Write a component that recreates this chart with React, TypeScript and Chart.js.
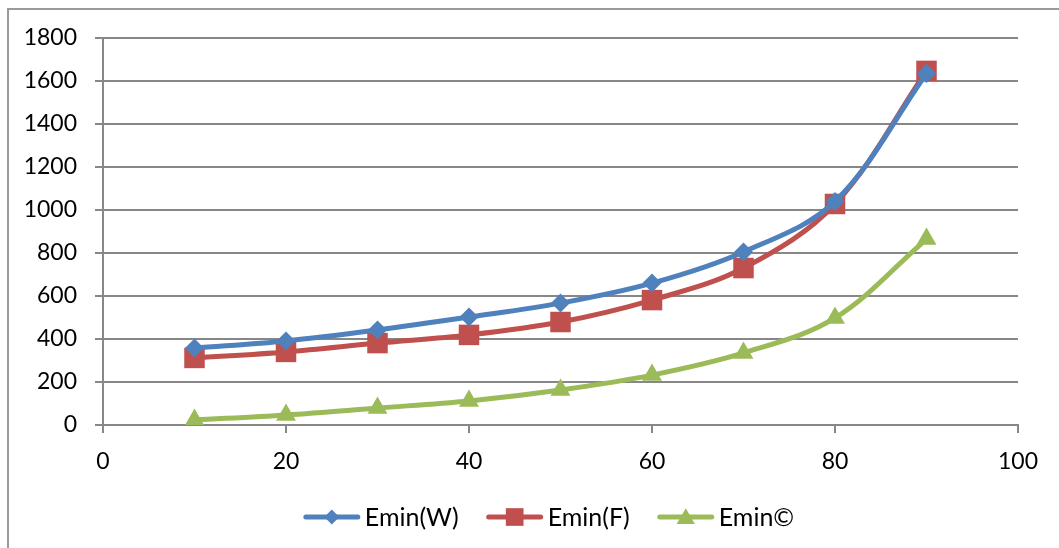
import React, { useEffect, useRef } from "react";
import { Chart, registerables } from "chart.js";

Chart.register(...registerables);

const xValues = [10, 20, 30, 40, 50, 60, 70, 80, 90];
const eminW = [358, 391, 442, 502, 567, 660, 805, 1040, 1635];
const eminF = [312, 340, 381, 419, 479, 581, 730, 1028, 1647];
const eminC = [23, 47, 79, 112, 163, 232, 335, 498, 865];
const seriesNames = ["Emin(W)", "Emin(F)", "Emin\u00A9"];
const xTicks = [0, 20, 40, 60, 80, 100];
const yTicks = [0, 200, 400, 600, 800, 1000, 1200, 1400, 1600, 1800];

const COLORS = ["#4F81BD", "#C0504D", "#9BBB59"];
const STYLES = ["rectRot", "rect", "triangle"];
const RADII = [9.5, 14.5, 11.5];
const FONT = "Lato, 'Open Sans', sans-serif";
const GRID = "#878787";

function drawMarker(ctx: CanvasRenderingContext2D, style: string, x: number, y: number, r: number) {
  ctx.beginPath();
  if (style === "rectRot") {
    ctx.moveTo(x - r, y);
    ctx.lineTo(x, y - r);
    ctx.lineTo(x + r, y);
    ctx.lineTo(x, y + r);
  } else if (style === "rect") {
    const s = r * Math.SQRT1_2;
    ctx.rect(x - s, y - s, 2 * s, 2 * s);
  } else {
    const h = r * 1.5;
    const w = r * Math.sqrt(3);
    ctx.moveTo(x, y - h / 2 - 1);
    ctx.lineTo(x + w / 2, y + h / 2 - 1);
    ctx.lineTo(x - w / 2, y + h / 2 - 1);
  }
  ctx.closePath();
  ctx.fill();
}

const legendPlugin = {
  id: "customLegend",
  afterDraw(chart: any) {
    const ctx: CanvasRenderingContext2D = chart.ctx;
    ctx.save();
    ctx.font = `25px ${FONT}`;
    ctx.textBaseline = "middle";
    ctx.textAlign = "left";
    const lineLen = 56;
    const gap = 5;
    const spacing = 28;
    const widths = seriesNames.map((n) => ctx.measureText(n).width);
    const total = widths.reduce((a, w) => a + lineLen + gap + w, 0) + spacing * (seriesNames.length - 1);
    let x = 549 - total / 2;
    const y = 517;
    const legendR = [7.5, 12.5, 10.5];
    seriesNames.forEach((name, i) => {
      ctx.strokeStyle = COLORS[i];
      ctx.fillStyle = COLORS[i];
      ctx.lineWidth = 5;
      ctx.lineCap = "round";
      ctx.beginPath();
      ctx.moveTo(x + 2, y);
      ctx.lineTo(x + lineLen - 2, y);
      ctx.stroke();
      drawMarker(ctx, STYLES[i], x + lineLen / 2, y, legendR[i]);
      ctx.fillStyle = "#000";
      ctx.fillText(name, x + lineLen + gap, y + 1);
      x += lineLen + gap + widths[i] + spacing;
    });
    ctx.restore();
  },
};

export default function App() {
  const ref = useRef<HTMLCanvasElement | null>(null);
  useEffect(() => {
    if (!ref.current) return;
    const all = [eminW, eminF, eminC];
    const chart = new Chart(ref.current, {
      type: "scatter",
      data: {
        datasets: all.map((vals, i) => ({
          label: seriesNames[i],
          data: xValues.map((x, j) => ({ x, y: vals[j] })),
          showLine: true,
          borderColor: COLORS[i],
          backgroundColor: COLORS[i],
          borderWidth: 5,
          tension: 0.35,
          pointStyle: STYLES[i] as any,
          pointRadius: RADII[i],
          pointBorderWidth: 0,
          pointBackgroundColor: COLORS[i],
        })),
      },
      options: {
        animation: false,
        responsive: false,
        layout: { padding: { left: 0, top: 38, right: 41, bottom: 63 } },
        plugins: { legend: { display: false }, tooltip: { enabled: false } },
        scales: {
          x: {
            type: "linear",
            min: 0,
            max: 100,
            afterBuildTicks: (s: any) => {
              s.ticks = xTicks.map((v) => ({ value: v }));
            },
            afterFit: (s: any) => {
              s.height = 60;
            },
            border: { color: GRID, width: 2 },
            grid: { display: true, drawOnChartArea: false, color: GRID, lineWidth: 2, tickLength: 8 },
            ticks: {
              color: "#000",
              font: { family: FONT, size: 23 },
              padding: 15,
              maxRotation: 0,
              callback: (v: any) => String(v),
            },
          },
          y: {
            type: "linear",
            min: 0,
            max: 1800,
            afterBuildTicks: (s: any) => {
              s.ticks = yTicks.map((v) => ({ value: v }));
            },
            afterFit: (s: any) => {
              s.width = 103;
            },
            border: { color: GRID, width: 2 },
            grid: { color: GRID, lineWidth: 2, tickLength: 8 },
            ticks: {
              color: "#000",
              font: { family: FONT, size: 23 },
              padding: 18,
              callback: (v: any) => String(v),
            },
          },
        },
      },
      plugins: [legendPlugin],
    });
    return () => chart.destroy();
  }, []);
  return (
    <div style={{ position: "fixed", left: 0, top: 0, width: 1059, height: 548, background: "#fff" }}>
      <div
        style={{
          position: "absolute",
          left: 7,
          top: 8,
          width: 1100,
          height: 600,
          borderTop: "2px solid #9a9a9a",
          borderLeft: "2px solid #9a9a9a",
        }}
      />
      <canvas ref={ref} width={1059} height={548} style={{ position: "absolute", left: 0, top: 0 }} />
    </div>
  );
}
